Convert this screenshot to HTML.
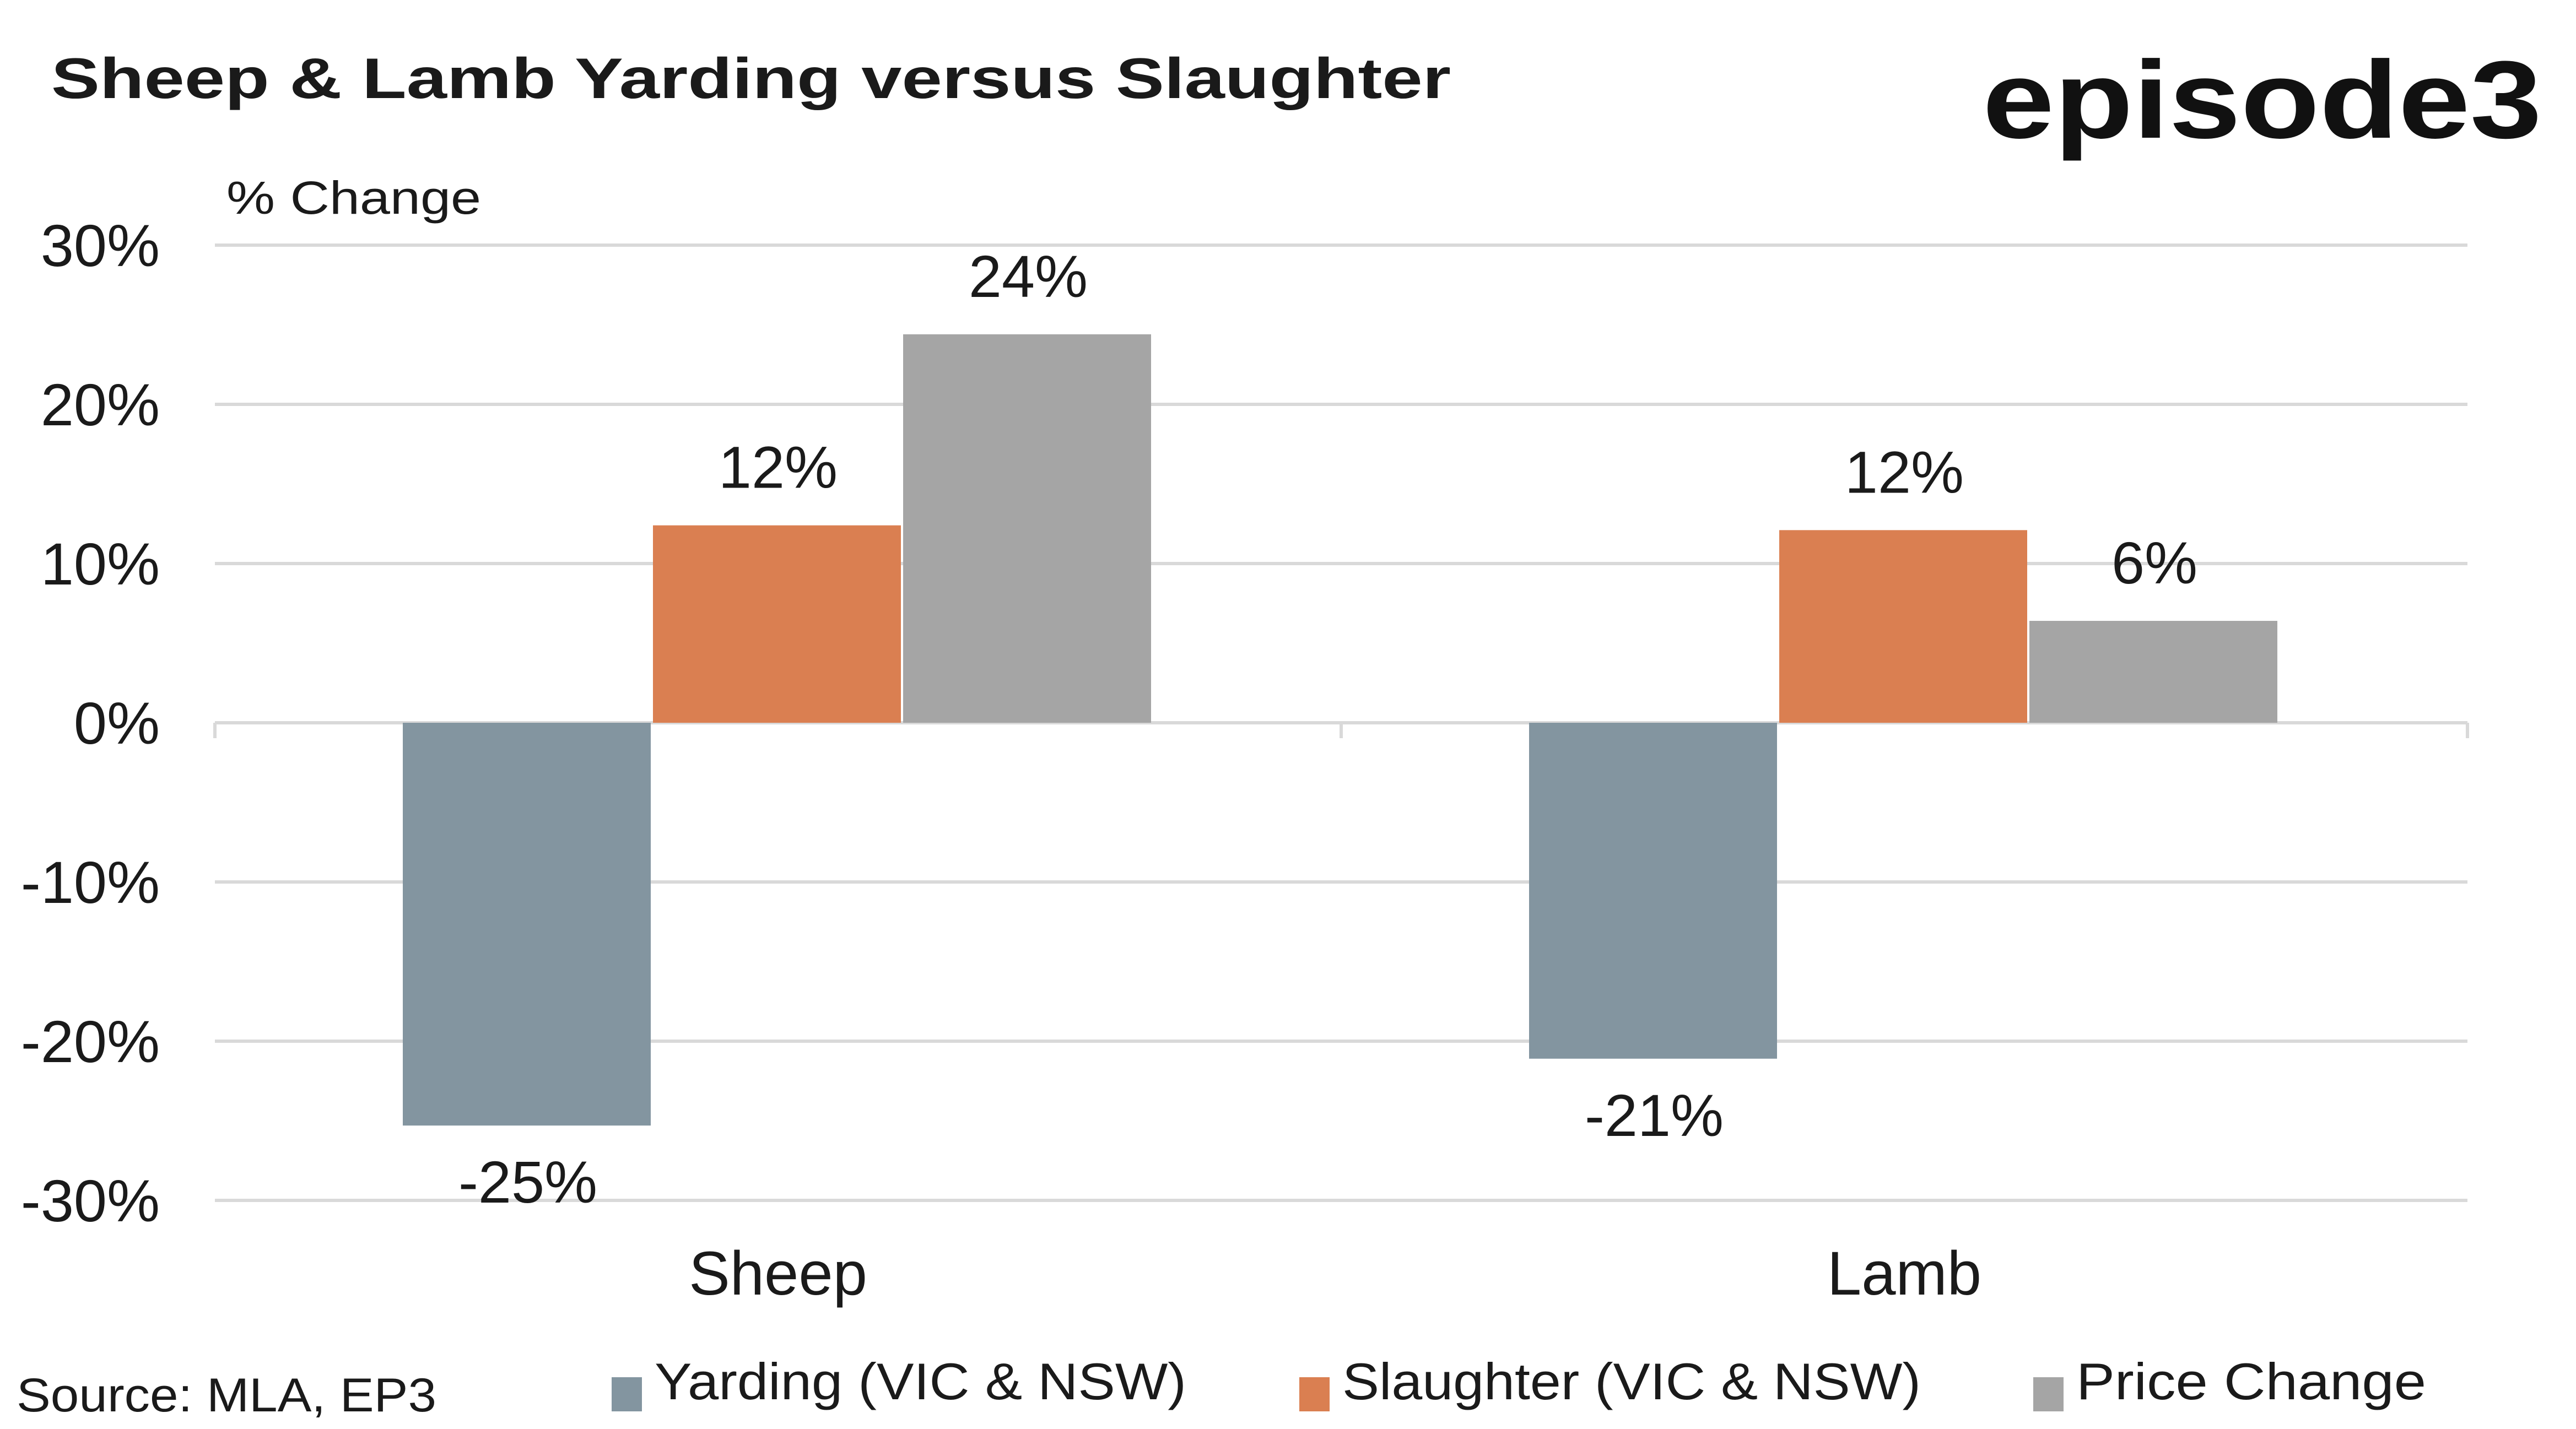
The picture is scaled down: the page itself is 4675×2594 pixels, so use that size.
<!DOCTYPE html>
<html><head><meta charset="utf-8"><style>
html,body{margin:0;padding:0;background:#fff;}
svg{display:block;font-family:"Liberation Sans",sans-serif;}
</style></head><body>
<svg id="chart" width="4675" height="2594" viewBox="0 0 4675 2594" xmlns="http://www.w3.org/2000/svg">
<rect width="4675" height="2594" fill="#fff"/>
<text x="93" y="178" font-size="104" font-weight="bold" fill="#1a1a1a" textLength="2540" lengthAdjust="spacingAndGlyphs">Sheep &amp; Lamb Yarding versus Slaughter</text>
<text x="3598" y="250" font-size="200" font-weight="bold" fill="#111" textLength="1015" lengthAdjust="spacingAndGlyphs">episode3</text>
<text x="411" y="388" font-size="84" fill="#1a1a1a" textLength="462" lengthAdjust="spacingAndGlyphs">% Change</text>
<g id="grid"></g><g id="bars"></g><g id="labels"></g>
<text x="30" y="2562" font-size="86" fill="#1a1a1a" textLength="762" lengthAdjust="spacingAndGlyphs">Source: MLA, EP3</text>
<g>
<rect x="1110" y="2500" width="55" height="62" fill="#8395a0"/>
<text x="1188" y="2540" font-size="94" fill="#1a1a1a" textLength="965" lengthAdjust="spacingAndGlyphs">Yarding (VIC &amp; NSW)</text>
<rect x="2358" y="2500" width="55" height="62" fill="#da7f51"/>
<text x="2436" y="2540" font-size="94" fill="#1a1a1a" textLength="1050" lengthAdjust="spacingAndGlyphs">Slaughter (VIC &amp; NSW)</text>
<rect x="3690" y="2500" width="55" height="62" fill="#a5a5a5"/>
<text x="3768" y="2540" font-size="94" fill="#1a1a1a" textLength="635" lengthAdjust="spacingAndGlyphs">Price Change</text>
</g>
</svg>
<script>
const categories = ["Sheep", "Lamb"];
const seriesNames = ["Yarding (VIC & NSW)", "Slaughter (VIC & NSW)", "Price Change"];
const yardingValues = [-25.3, -21.1];
const slaughterValues = [12.4, 12.1];
const priceValues = [24.4, 6.4];
const valueLabels = [["-25%", "12%", "24%"], ["-21%", "12%", "6%"]];
const yTicks = [30, 20, 10, 0, -10, -20, -30];
const yTickLabels = ["30%", "20%", "10%", "0%", "-10%", "-20%", "-30%"];

const NS = "http://www.w3.org/2000/svg";
const plotL = 390, plotR = 4478, y0px = 1312, perUnit = 28.9;
function yScale(v){ return y0px - v * perUnit; }
const groupW = (plotR - plotL) / categories.length;
const barW = 454;
function xBar(ci, si){ return plotL + groupW * ci + groupW / 2 - 1.5 * barW + si * barW; }
const colors = ["#8395a0", "#da7f51", "#a5a5a5"];
const keys = ["yarding", "slaughter", "price"];
function mk(tag, attrs, parent){ const e = document.createElementNS(NS, tag); for (const k in attrs) e.setAttribute(k, attrs[k]); parent.appendChild(e); return e; }

const grid = document.getElementById("grid");
yTicks.forEach((t, i) => {
  const y = yScale(t);
  const ln = mk("line", {x1: plotL, x2: plotR, y1: y, y2: y, stroke: "#d9d9d9", "stroke-width": 6}, grid);
  
  
  const tx = mk("text", {x: 290, y: y + 38, "font-size": 108, "text-anchor": "end", fill: "#1a1a1a"}, grid);
  
  
  tx.textContent = yTickLabels[i];
});
for (let i = 0; i <= categories.length; i++) {
  const x = plotL + groupW * i;
  const tk = mk("line", {x1: x, x2: x, y1: y0px, y2: y0px + 28, stroke: "#d9d9d9", "stroke-width": 6}, grid);
  
  
}
const bars = document.getElementById("bars"), labels = document.getElementById("labels");
const series = [yardingValues, slaughterValues, priceValues];
categories.forEach((c, ci) => {
  series.forEach((vals, si) => {
    const v = vals[ci], x = xBar(ci, si);
    const top = Math.min(yScale(v), y0px), h = Math.abs(yScale(v) - y0px);
    const r = mk("rect", {x: x, y: top, width: barW - 4, height: h, fill: colors[si]}, bars);
    
    
    const ly = v >= 0 ? yScale(v) - 68 : yScale(v) + 140;
    const t = mk("text", {x: x + barW / 2, y: ly, "font-size": 108, "text-anchor": "middle", fill: "#1a1a1a"}, labels);
    
    
    t.textContent = valueLabels[ci][si];
  });
  const cl = mk("text", {x: plotL + groupW * ci + groupW / 2, y: 2350, "font-size": 112, "text-anchor": "middle", fill: "#1a1a1a"}, labels);
  
  
  cl.textContent = c;
});
</script>
</body></html>
